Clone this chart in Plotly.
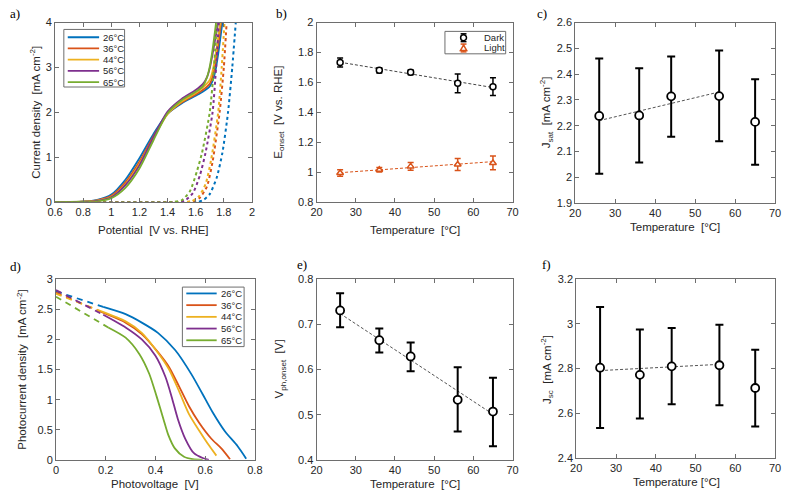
import plotly.graph_objects as go

W, H = 788, 500

# ---------------- data ----------------
temp_labels = ["26°C", "36°C", "44°C", "56°C", "65°C"]
series_colors = ["#0072BD", "#D95319", "#EDB120", "#7E2F8E", "#77AC30"]

# Panel a: J-V under illumination (solid)
a_light_v = [
    [0.6, 0.8, 0.9, 1.0, 1.1, 1.2, 1.3, 1.4, 1.5, 1.6, 1.65, 1.70, 1.72, 1.74, 1.76, 1.79],
    [0.6, 0.8, 0.9, 1.0, 1.1, 1.2, 1.3, 1.4, 1.5, 1.6, 1.65, 1.70, 1.72, 1.74, 1.76, 1.78],
    [0.6, 0.8, 0.9, 1.0, 1.1, 1.2, 1.3, 1.4, 1.5, 1.6, 1.65, 1.70, 1.72, 1.74, 1.775],
    [0.6, 0.8, 0.9, 1.0, 1.1, 1.2, 1.3, 1.4, 1.5, 1.6, 1.65, 1.68, 1.70, 1.72, 1.74, 1.76],
    [0.6, 0.8, 0.9, 1.0, 1.1, 1.2, 1.3, 1.4, 1.5, 1.6, 1.65, 1.68, 1.70, 1.72, 1.745],
]
a_light_j = [
    [0, 0.01, 0.05, 0.17, 0.50, 0.98, 1.52, 1.97, 2.20, 2.37, 2.46, 2.58, 2.70, 2.92, 3.30, 4.0],
    [0, 0.01, 0.04, 0.14, 0.44, 0.90, 1.47, 1.97, 2.22, 2.40, 2.50, 2.64, 2.80, 3.10, 3.50, 4.0],
    [0, 0.01, 0.035, 0.12, 0.40, 0.85, 1.43, 1.96, 2.24, 2.43, 2.55, 2.72, 2.92, 3.25, 4.0],
    [0, 0.01, 0.03, 0.11, 0.38, 0.82, 1.45, 2.02, 2.30, 2.50, 2.63, 2.78, 2.98, 3.30, 3.65, 4.0],
    [0, 0.01, 0.02, 0.09, 0.32, 0.75, 1.38, 1.98, 2.27, 2.46, 2.58, 2.78, 3.02, 3.40, 4.0],
]
# Panel a: J-V in the dark (dotted)
a_dark_v = [
    [0.6, 1.5, 1.62, 1.66, 1.70, 1.75, 1.79, 1.83, 1.86, 1.885],
    [0.6, 1.5, 1.58, 1.63, 1.68, 1.72, 1.77, 1.80, 1.82],
    [0.6, 1.5, 1.57, 1.62, 1.67, 1.71, 1.76, 1.785, 1.805],
    [0.6, 1.45, 1.52, 1.58, 1.63, 1.67, 1.72, 1.745, 1.765],
    [0.6, 1.42, 1.50, 1.56, 1.61, 1.645, 1.70, 1.73, 1.75],
]
a_dark_j = [
    [0, 0, 0.01, 0.06, 0.18, 0.55, 1.1, 2.0, 3.0, 4.0],
    [0, 0, 0.02, 0.10, 0.35, 0.90, 2.0, 3.0, 4.0],
    [0, 0, 0.02, 0.12, 0.40, 0.95, 2.0, 3.0, 4.0],
    [0, 0, 0.03, 0.20, 0.60, 1.10, 2.0, 3.0, 4.0],
    [0, 0, 0.04, 0.25, 0.70, 1.10, 2.0, 3.0, 4.0],
]

temps = [26, 36, 44, 56, 65]

# Panel b: onset potentials
b_dark = [1.733, 1.681, 1.668, 1.594, 1.572]
b_dark_err = [0.030, 0.018, 0.016, 0.062, 0.060]
b_light = [0.995, 1.017, 1.039, 1.052, 1.062]
b_light_err = [0.022, 0.015, 0.026, 0.040, 0.046]
b_dark_fit_x, b_dark_fit_y = [26, 65], [1.735, 1.566]
b_light_fit_x, b_light_fit_y = [26, 65], [0.997, 1.071]

# Panel c: saturation current density
c_val = [2.238, 2.240, 2.314, 2.315, 2.215]
c_hi = [2.461, 2.423, 2.469, 2.492, 2.380]
c_lo = [2.014, 2.058, 2.157, 2.140, 2.049]
c_fit_x, c_fit_y = [26, 56], [2.220, 2.331]

# Panel d: photocurrent vs photovoltage
d_dash_v = [[0, 0.19], [0, 0.18], [0, 0.18], [0, 0.19], [0, 0.21]]
d_dash_j = [[2.80, 2.54], [2.78, 2.46], [2.76, 2.47], [2.82, 2.41], [2.71, 2.20]]
d_v = [
    [0.19, 0.28, 0.345, 0.41, 0.48, 0.545, 0.59, 0.63, 0.68, 0.73, 0.765],
    [0.18, 0.28, 0.345, 0.41, 0.455, 0.495, 0.535, 0.575, 0.625, 0.665, 0.70],
    [0.18, 0.28, 0.345, 0.41, 0.455, 0.495, 0.535, 0.575, 0.61, 0.645],
    [0.19, 0.28, 0.345, 0.40, 0.44, 0.465, 0.49, 0.52, 0.555, 0.59, 0.615],
    [0.21, 0.28, 0.335, 0.375, 0.405, 0.432, 0.452, 0.478, 0.515, 0.55, 0.59],
]
d_j = [
    [2.54, 2.42, 2.28, 2.11, 1.82, 1.42, 1.09, 0.79, 0.47, 0.23, 0.02],
    [2.46, 2.28, 2.09, 1.79, 1.54, 1.22, 0.89, 0.62, 0.35, 0.19, 0.01],
    [2.47, 2.30, 2.11, 1.78, 1.50, 1.14, 0.76, 0.49, 0.27, 0.07],
    [2.41, 2.20, 2.00, 1.73, 1.38, 1.05, 0.68, 0.35, 0.11, 0.03, 0.0],
    [2.20, 2.03, 1.76, 1.43, 1.05, 0.68, 0.41, 0.19, 0.05, 0.01, 0.0],
]

# Panel e: photovoltage onset
e_val = [0.731, 0.665, 0.629, 0.533, 0.507]
e_hi = [0.769, 0.691, 0.660, 0.605, 0.582]
e_lo = [0.694, 0.638, 0.596, 0.463, 0.430]
e_fit_x, e_fit_y = [26, 65], [0.724, 0.501]

# Panel f: short-circuit current density
f_val = [2.804, 2.772, 2.810, 2.815, 2.713]
f_hi = [3.076, 2.975, 2.982, 2.996, 2.884]
f_lo = [2.534, 2.576, 2.640, 2.636, 2.541]
f_fit_x, f_fit_y = [26, 56], [2.791, 2.819]

# ---------------- helpers ----------------
FONT = "Liberation Sans, Arial, sans-serif"
AX_COL = "#6e6e6e"
TXT_COL = "#262626"


def px(x):
    return x / W


def py(y):
    return 1 - y / H


fig = go.Figure()


def add_err(axn, vals, hi, lo, msize=8, thick=2, capw=4):
    fig.add_trace(go.Scatter(
        x=temps, y=vals, mode="markers", showlegend=False,
        xaxis="x%s" % axn, yaxis="y%s" % axn,
        marker=dict(symbol="circle", size=msize, color="white",
                    line=dict(color="black", width=1.8)),
        error_y=dict(type="data", symmetric=False,
                     array=[h - v for h, v in zip(hi, vals)],
                     arrayminus=[v - l for v, l in zip(vals, lo)],
                     color="black", thickness=thick, width=capw),
    ))


def add_fit(axn, x, y, color="#555555", width=1):
    fig.add_trace(go.Scatter(x=x, y=y, mode="lines", showlegend=False,
                             xaxis="x%s" % axn, yaxis="y%s" % axn,
                             line=dict(color=color, width=width, dash="3px,2px")))


# ---- panel a ----
for i in range(5):
    fig.add_trace(go.Scatter(x=a_light_v[i], y=a_light_j[i], mode="lines",
                             line=dict(color=series_colors[i], width=1.8, shape="spline", smoothing=0.7),
                             showlegend=False, xaxis="x", yaxis="y"))
for i in range(5):
    fig.add_trace(go.Scatter(x=a_dark_v[i], y=a_dark_j[i], mode="lines",
                             line=dict(color=series_colors[i], width=2, dash="dot", shape="spline", smoothing=0.6),
                             showlegend=False, xaxis="x", yaxis="y"))

# ---- panel b ----
add_fit(2, b_dark_fit_x, b_dark_fit_y, color="#444444")
add_fit(2, b_light_fit_x, b_light_fit_y, color="#D95319")
fig.add_trace(go.Scatter(
    x=temps, y=b_dark, mode="markers", showlegend=False, xaxis="x2", yaxis="y2",
    marker=dict(symbol="circle", size=6, color="white", line=dict(color="black", width=1.5)),
    error_y=dict(type="data", array=b_dark_err, color="black", thickness=1.5, width=3)))
fig.add_trace(go.Scatter(
    x=temps, y=b_light, mode="markers", showlegend=False, xaxis="x2", yaxis="y2",
    marker=dict(symbol="triangle-up", size=6, color="white", line=dict(color="#D95319", width=1.5)),
    error_y=dict(type="data", array=b_light_err, color="#D95319", thickness=1.5, width=3)))

# ---- panel c ----
add_fit(3, c_fit_x, c_fit_y)
add_err(3, c_val, c_hi, c_lo)

# ---- panel d ----
for i in range(5):
    fig.add_trace(go.Scatter(x=d_dash_v[i], y=d_dash_j[i], mode="lines",
                             line=dict(color=series_colors[i], width=1.8, dash="6px,5px"),
                             showlegend=False, xaxis="x4", yaxis="y4"))
for i in range(5):
    fig.add_trace(go.Scatter(x=d_v[i], y=d_j[i], mode="lines",
                             line=dict(color=series_colors[i], width=1.8, shape="spline", smoothing=0.7),
                             showlegend=False, xaxis="x4", yaxis="y4"))

# ---- panel e ----
add_fit(5, e_fit_x, e_fit_y)
add_err(5, e_val, e_hi, e_lo)

# ---- panel f ----
add_fit(6, f_fit_x, f_fit_y)
add_err(6, f_val, f_hi, f_lo)


def axis(domain_px, rng, tickvals, ticktext, anchor, horizontal):
    if horizontal:
        dom = [px(domain_px[0]), px(domain_px[1])]
    else:
        dom = [py(domain_px[1]), py(domain_px[0])]
    return dict(domain=dom, range=rng, tickvals=tickvals, ticktext=ticktext, anchor=anchor,
                showline=True, mirror="ticks", linecolor=AX_COL, linewidth=1,
                ticks="inside", ticklen=4, tickcolor=AX_COL, tickwidth=1,
                showgrid=False, zeroline=False, fixedrange=True,
                tickfont=dict(size=11, color=TXT_COL, family=FONT))


temp_ticks = [20, 30, 40, 50, 60, 70]
temp_text = [str(t) for t in temp_ticks]

layout_axes = dict(
    xaxis=axis([48, 249], [0.6, 2.0], [0.6, 0.8, 1.0, 1.2, 1.4, 1.6, 1.8, 2.0],
               ["0.6", "0.8", "1", "1.2", "1.4", "1.6", "1.8", "2"], "y", True),
    yaxis=axis([17, 201], [0, 4], [0, 1, 2, 3, 4], ["0", "1", "2", "3", "4"], "x", False),
    xaxis2=axis([315, 515], [20, 70], temp_ticks, temp_text, "y2", True),
    yaxis2=axis([17, 201], [0.8, 2.0], [0.8, 1.0, 1.2, 1.4, 1.6, 1.8, 2.0],
                ["0.8", "1", "1.2", "1.4", "1.6", "1.8", "2"], "x2", False),
    xaxis3=axis([579, 783], [20, 70], temp_ticks, temp_text, "y3", True),
    yaxis3=axis([17, 202], [1.9, 2.6], [1.9, 2.0, 2.1, 2.2, 2.3, 2.4, 2.5, 2.6],
                ["1.9", "2", "2.1", "2.2", "2.3", "2.4", "2.5", "2.6"], "x3", False),
    xaxis4=axis([49, 252], [0, 0.8], [0, 0.2, 0.4, 0.6, 0.8], ["0", "0.2", "0.4", "0.6", "0.8"], "y4", True),
    yaxis4=axis([280, 465], [0, 3], [0, 0.5, 1, 1.5, 2, 2.5, 3],
                ["0", "0.5", "1", "1.5", "2", "2.5", "3"], "x4", False),
    xaxis5=axis([315, 515], [20, 70], temp_ticks, temp_text, "y5", True),
    yaxis5=axis([280, 465], [0.4, 0.8], [0.4, 0.5, 0.6, 0.7, 0.8],
                ["0.4", "0.5", "0.6", "0.7", "0.8"], "x5", False),
    xaxis6=axis([580, 783], [20, 70], temp_ticks, temp_text, "y6", True),
    yaxis6=axis([280, 463], [2.4, 3.2], [2.4, 2.6, 2.8, 3.0, 3.2],
                ["2.4", "2.6", "2.8", "3", "3.2"], "x6", False),
)

annotations = []
shapes = []


def text(xp, yp, s, size=11.5, angle=0, xanchor="center", family=FONT, color=TXT_COL):
    annotations.append(dict(x=px(xp), y=py(yp), xref="paper", yref="paper", text=s,
                            showarrow=False, textangle=angle, xanchor=xanchor, yanchor="middle",
                            font=dict(size=size, family=family, color=color)))


# axis titles
text(149, 230, "Potential  [V vs. RHE]")
text(28, 109, "Current density  [mA cm<sup>-2</sup>]", angle=-90)
text(415, 230, "Temperature  [°C]")
text(277, 109, "E<sub>onset</sub>  [V vs. RHE]", angle=-90)
text(681, 226, "Temperature  [°C]")
text(550, 109, "J<sub>sat</sub>  [mA cm<sup>-2</sup>]", angle=-90)
text(150, 490, "Photovoltage  [V]")
text(14, 372, "Photocurrent density  [mA cm<sup>-2</sup>]", angle=-90)
text(415, 490, "Temperature  [°C]")
text(278, 372, "V<sub>ph,onset</sub>  [V]", angle=-90)
text(682, 488, "Temperature [°C]")
text(550, 372, "J<sub>sc</sub>  [mA cm<sup>-2</sup>]", angle=-90)

# panel letters
SERIF = "Liberation Serif, Times New Roman, serif"
for lx, ly, s in [(0, 8, "a)"), (272, 8, "b)"), (538, 8, "c)"),
                  (0, 267, "d)"), (293, 265, "e)"), (543, 265, "f)")]:
    text(lx, ly, s, size=13, xanchor="left", family=SERIF, color="black")


def line_legend(box, line_x, text_x, ys):
    x0, y0, x1, y1 = box
    shapes.append(dict(type="rect", xref="paper", yref="paper", x0=px(x0), x1=px(x1),
                       y0=py(y1), y1=py(y0), line=dict(color=AX_COL, width=1), fillcolor="white"))
    for i, yy in enumerate(ys):
        shapes.append(dict(type="line", xref="paper", yref="paper", x0=px(line_x[0]), x1=px(line_x[1]),
                           y0=py(yy), y1=py(yy), line=dict(color=series_colors[i], width=1.8)))
        text(text_x, yy, temp_labels[i], size=9.5, xanchor="left")


line_legend((57, 24, 119, 83), (61, 93), 95, [32, 43.5, 55, 66.5, 78])
line_legend((178, 288, 241, 349), (182, 213), 215, [294.5, 306.5, 318.5, 330.5, 342.5])

# legend b
bx0, by0, bx1, by1 = 446, 26, 508, 49
shapes.append(dict(type="rect", xref="paper", yref="paper", x0=px(bx0), x1=px(bx1),
                   y0=py(by1), y1=py(by0), line=dict(color=AX_COL, width=1), fillcolor="white"))
sx = 465
for yy, col in [(32.5, "black"), (43, "#D95319")]:
    shapes.append(dict(type="line", xref="paper", yref="paper", x0=px(sx), x1=px(sx),
                       y0=py(yy + 4), y1=py(yy - 4), line=dict(color=col, width=1.5)))
    for cy in (yy - 4, yy + 4):
        shapes.append(dict(type="line", xref="paper", yref="paper", x0=px(sx - 3), x1=px(sx + 3),
                           y0=py(cy), y1=py(cy), line=dict(color=col, width=1.5)))
shapes.append(dict(type="circle", xref="paper", yref="paper", x0=px(sx - 3), x1=px(sx + 3),
                   y0=py(35.5), y1=py(29.5), line=dict(color="black", width=1.5), fillcolor="white"))
tri = "M %f,%f L %f,%f L %f,%f Z" % (px(sx - 3.2), py(45.5), px(sx + 3.2), py(45.5), px(sx), py(40))
shapes.append(dict(type="path", xref="paper", yref="paper", path=tri,
                   line=dict(color="#D95319", width=1.5), fillcolor="white"))
text(484, 32.5, "Dark", size=9.5, xanchor="left")
text(484, 43, "Light", size=9.5, xanchor="left")

fig.update_layout(
    width=W, height=H, autosize=False,
    margin=dict(l=0, r=0, t=0, b=0),
    paper_bgcolor="white", plot_bgcolor="white",
    font=dict(family=FONT, color=TXT_COL),
    showlegend=False, hovermode=False,
    annotations=annotations, shapes=shapes,
    **layout_axes,
)

fig.write_html(
    "out.html",
    config={"displayModeBar": False, "staticPlot": True},
    post_script="document.body.style.margin='0';document.body.style.padding='0';"
                "document.body.style.overflow='hidden';",
)
